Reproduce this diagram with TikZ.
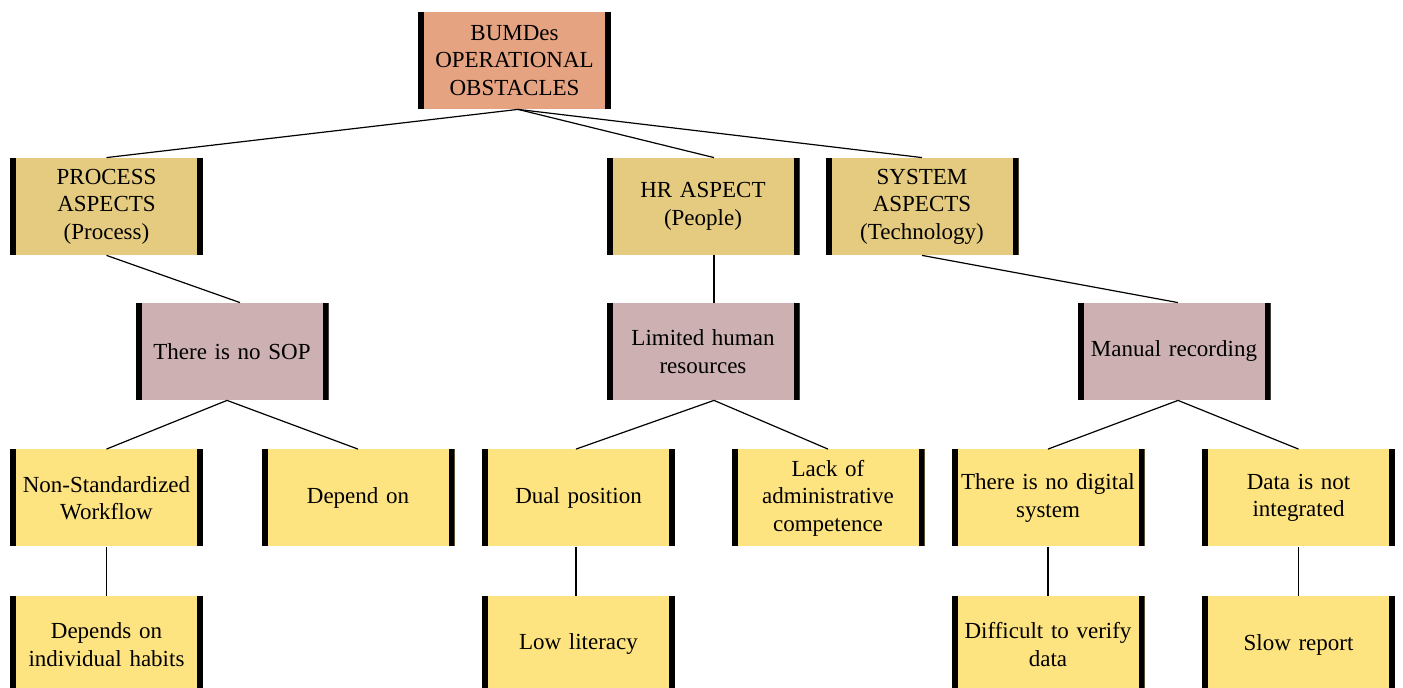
\documentclass[tikz,border=0pt]{standalone}
\usepackage{fontspec}
\setmainfont{Liberation Serif}
\usepackage{tikz}
\usetikzlibrary{positioning,calc}
\usepackage{xcolor}
\definecolor{rootfill}{HTML}{E5A382}
\definecolor{aspectfill}{HTML}{E5CB80}
\definecolor{causefill}{HTML}{CDB0B1}
\definecolor{leaffill}{HTML}{FEE381}

\tikzset{
  barbox/.style={rectangle, inner sep=0pt, minimum width=96.5pt, minimum height=48.5pt,
    text width=92pt, align=center, font=\fontsize{11.5}{13.8}\selectfont,
    path picture={
      \fill[black] (path picture bounding box.south west) rectangle ([xshift=3pt]path picture bounding box.north west);
      \fill[black] (path picture bounding box.south east) rectangle ([xshift=-3pt]path picture bounding box.north east);
    }},
  rootbox/.style={barbox, fill=rootfill},
  aspectbox/.style={barbox, fill=aspectfill},
  causebox/.style={barbox, fill=causefill},
  leafbox/.style={barbox, fill=leaffill},
  link/.style={draw=black, line width=0.6pt}
}

\begin{document}
\begin{tikzpicture}[x=0.5pt, y=-0.5pt]
  \useasboundingbox (0,0) rectangle (1403,688);
  % Root
  \node[rootbox] (root) at (514.5, 60.5) {BUMDes\\OPERATIONAL\\OBSTACLES};
  % Aspects
  \node[aspectbox] (proc) at (106.5, 206.5) {PROCESS\\ASPECTS\\(Process)};
  \node[aspectbox] (hr) at (703, 206.5) {HR ASPECT\\(People)};
  \node[aspectbox] (sys) at (922, 206.5) {SYSTEM\\ASPECTS\\(Technology)};
  % Causes
  \node[causebox] (sop) at (232, 351.5) {There is no SOP};
  \node[causebox] (lim) at (703, 351.5) {Limited human\\resources};
  \node[causebox] (man) at (1174, 351.5) {Manual recording};
  % Effects
  \node[leafbox] (nonstd) at (106.5, 498) {Non-Standardized\\Workflow};
  \node[leafbox] (dep) at (358, 498) {Depend on};
  \node[leafbox] (dual) at (578.5, 498) {Dual position};
  \node[leafbox] (lack) at (828, 498) {Lack of\\administrative\\competence};
  \node[leafbox] (nodig) at (1048, 498) {There is no digital\\system};
  \node[leafbox] (notint) at (1298.5, 498) {Data is not\\integrated};
  % Consequences
  \node[leafbox] (habits) at (106.5, 644.5) {Depends on\\individual habits};
  \node[leafbox] (lowlit) at (578.5, 644.5) {Low literacy};
  \node[leafbox] (verify) at (1048, 644.5) {Difficult to verify\\data};
  \node[leafbox] (slow) at (1298.5, 644.5) {Slow report};
  % Connectors
  \draw[link] ([xshift=1.75pt]root.south) -- (proc.north);
  \draw[link] ([xshift=1.75pt]root.south) -- ([xshift=5.5pt]hr.north);
  \draw[link] ([xshift=1.75pt]root.south) -- (sys.north);
  \draw[link] (proc.south) -- ([xshift=4pt]sop.north);
  \draw[link] ([xshift=5.5pt]hr.south) -- ([xshift=5.5pt]lim.north);
  \draw[link] (sys.south) -- ([xshift=2pt]man.north);
  \draw[link] ([xshift=-2.5pt]sop.south) -- (nonstd.north);
  \draw[link] ([xshift=-2.5pt]sop.south) -- (dep.north);
  \draw[link] ([xshift=5.5pt]lim.south) -- ([xshift=-1.25pt]dual.north);
  \draw[link] ([xshift=5.5pt]lim.south) -- (lack.north);
  \draw[link] ([xshift=2pt]man.south) -- (nodig.north);
  \draw[link] ([xshift=2pt]man.south) -- (notint.north);
  \draw[link] (nonstd.south) -- (habits.north);
  \draw[link] ([xshift=-1.25pt]dual.south) -- ([xshift=-1.25pt]lowlit.north);
  \draw[link] (nodig.south) -- (verify.north);
  \draw[link] (notint.south) -- (slow.north);
\end{tikzpicture}
\end{document}
